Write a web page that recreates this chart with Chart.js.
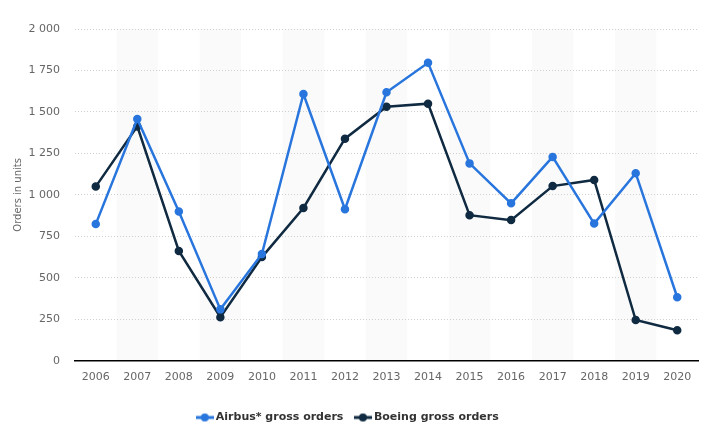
<!DOCTYPE html>
<html>
<head>
<meta charset="utf-8">
<script src="https://cdn.jsdelivr.net/npm/chart.js@4/dist/chart.umd.min.js"></script>
<style>
  html, body { margin: 0; padding: 0; background: #fff; }
  #wrap { width: 705px; height: 437px; }
</style>
</head>
<body>
<div id="wrap"><canvas id="orders-chart"></canvas></div>
<script>
// data
const years = ['2006', '2007', '2008', '2009', '2010', '2011', '2012', '2013', '2014', '2015', '2016', '2017', '2018', '2019', '2020'];
const airbusOrders = [824, 1458, 900, 310, 644, 1608, 914, 1619, 1796, 1190, 949, 1229, 827, 1131, 383];
const boeingOrders = [1050, 1413, 662, 263, 625, 921, 1339, 1531, 1550, 878, 848, 1053, 1090, 246, 184];
const yTicks = [0, 250, 500, 750, 1000, 1250, 1500, 1750, 2000];

const airbusColor = '#2876dd';
const boeingColor = '#0f2a41';
const fontFamily = '"DejaVu Sans", Verdana, sans-serif';

// legend marker: short line with a dot in the middle
function legendMarker(color) {
  const c = document.createElement('canvas');
  c.width = 18;
  c.height = 10;
  const g = c.getContext('2d');
  g.strokeStyle = color;
  g.lineWidth = 3;
  g.beginPath();
  g.moveTo(0, 5);
  g.lineTo(18, 5);
  g.stroke();
  g.fillStyle = color;
  g.beginPath();
  g.arc(9, 5, 4, 0, Math.PI * 2);
  g.fill();
  return c;
}

// light stripes behind every other year (drawn before the grid and axes)
const stripes = {
  id: 'stripes',
  beforeDraw(chart) {
    const { ctx, chartArea, scales } = chart;
    const x = scales.x;
    const w = x.getPixelForValue(1) - x.getPixelForValue(0);
    ctx.save();
    ctx.fillStyle = '#fafafa';
    for (let i = 1; i < years.length; i += 2) {
      const cx = x.getPixelForValue(i);
      ctx.fillRect(cx - w / 2, chartArea.top, w, chartArea.bottom - chartArea.top);
    }
    ctx.restore();
  }
};

const ctx = document.getElementById('orders-chart');
new Chart(ctx, {
  type: 'line',
  data: {
    labels: years,
    datasets: [
      {
        label: 'Airbus* gross orders',
        data: airbusOrders,
        borderColor: airbusColor,
        backgroundColor: airbusColor,
        borderWidth: 2.5,
        pointRadius: 3,
        pointHoverRadius: 3,
        tension: 0,
      },
      {
        label: 'Boeing gross orders',
        data: boeingOrders,
        borderColor: boeingColor,
        backgroundColor: boeingColor,
        borderWidth: 2.5,
        pointRadius: 3,
        pointHoverRadius: 3,
        tension: 0,
      },
    ],
  },
  options: {
    responsive: true,
    maintainAspectRatio: false,
    animation: false,
    layout: { padding: { top: 29, right: 7, left: 0, bottom: 4 } },
    plugins: {
      tooltip: { enabled: false },
      legend: {
        position: 'bottom',
        labels: {
          usePointStyle: true,
          color: '#333',
          padding: 14,
          font: { family: fontFamily, size: 11, weight: 'bold' },
          generateLabels(chart) {
            return chart.data.datasets.map((ds, i) => ({
              text: ds.label,
              fillStyle: ds.borderColor,
              strokeStyle: ds.borderColor,
              pointStyle: legendMarker(ds.borderColor),
              datasetIndex: i,
              fontColor: '#333',
              hidden: false,
            }));
          },
        },
      },
    },
    scales: {
      x: {
        offset: true,
        grid: { display: false },
        border: { color: '#000', width: 1.5 },
        ticks: { color: '#666', font: { family: fontFamily, size: 11 }, padding: 2 },
        afterFit(axis) {
          axis.height += 12;
        },
      },
      y: {
        min: 0,
        max: 2000,
        afterBuildTicks(axis) {
          axis.ticks = yTicks.map((v) => ({ value: v }));
        },
        afterFit(axis) {
          axis.width = 75;
        },
        border: { display: false, dash: [1, 2] },
        grid: { color: '#cfcfcf', lineWidth: 1, drawTicks: false },
        ticks: {
          color: '#666',
          padding: 15,
          font: { family: fontFamily, size: 11 },
          callback: (v) => String(v).replace(/\B(?=(\d{3})+(?!\d))/g, ' '),
        },
        title: {
          display: true,
          text: 'Orders in units',
          color: '#666',
          font: { family: fontFamily, size: 10 },
          padding: { top: 12, bottom: 2 },
        },
      },
    },
  },
  plugins: [stripes],
});
</script>
</body>
</html>
